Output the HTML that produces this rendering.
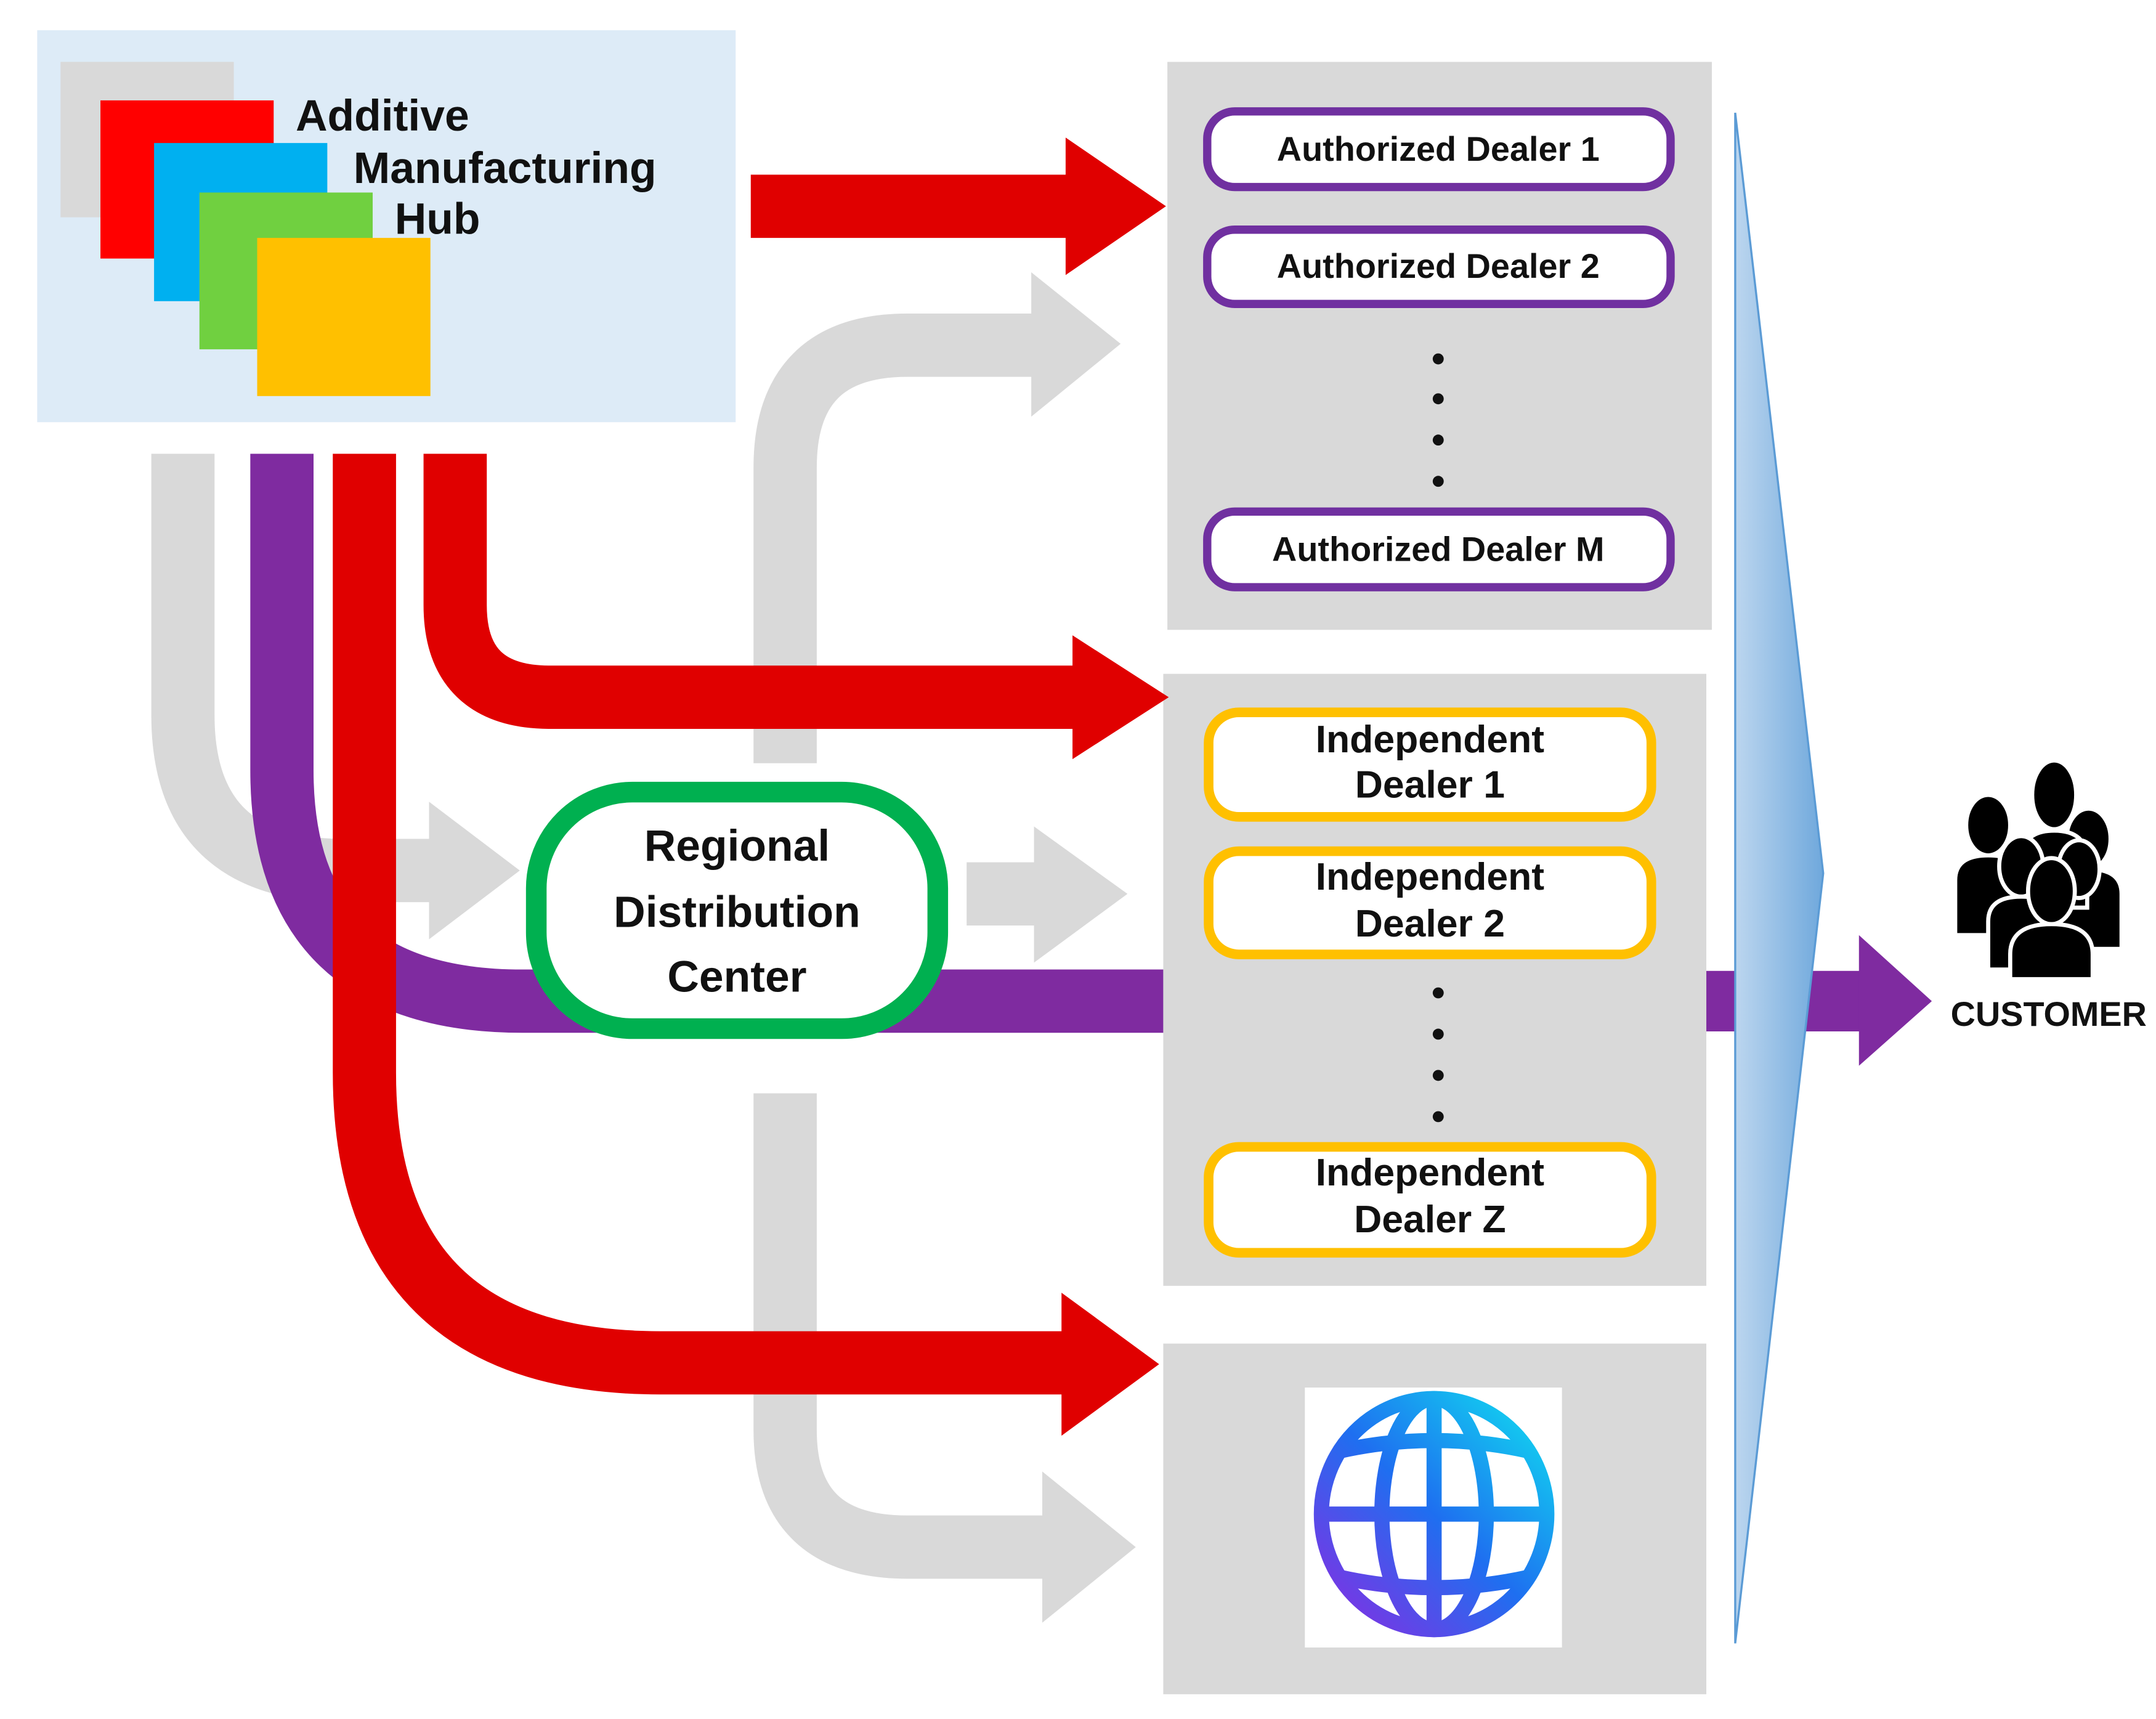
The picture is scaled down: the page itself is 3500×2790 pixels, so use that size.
<!DOCTYPE html>
<html><head><meta charset="utf-8"><style>
html,body{margin:0;padding:0;background:#fff;}
svg{display:block;}
text{font-family:"Liberation Sans",sans-serif;font-weight:bold;fill:#111;}
</style></head><body>
<svg width="3500" height="2790" viewBox="0 0 1568 1250" xmlns="http://www.w3.org/2000/svg">
<defs>
<linearGradient id="tri" x1="0" y1="0" x2="1" y2="0"><stop offset="0" stop-color="#bcd6ef"/><stop offset="1" stop-color="#6fa8dc"/></linearGradient>
<linearGradient id="glb" gradientUnits="userSpaceOnUse" x1="1125" y1="1017" x2="961" y2="1185"><stop offset="0" stop-color="#10e0f0"/><stop offset="0.5" stop-color="#1e6ff0"/><stop offset="1" stop-color="#8a2be2"/></linearGradient>
</defs>
<!-- hub -->
<rect x="27" y="22" width="508" height="285" fill="#DDEBF7"/>
<rect x="44" y="45" width="126" height="113" fill="#D9D9D9"/>
<rect x="73" y="73" width="126" height="115" fill="#FF0000"/>
<rect x="112" y="104" width="126" height="115" fill="#00B0F0"/>
<rect x="145" y="140" width="126" height="114" fill="#70D040"/>
<rect x="187" y="173" width="126" height="115" fill="#FFC000"/>
<text x="215" y="95" font-size="32">Additive</text>
<text x="257" y="133" font-size="32">Manufacturing</text>
<text x="287" y="170" font-size="32">Hub</text>

<!-- panels -->
<rect x="849" y="45" width="396" height="413" fill="#D9D9D9"/>
<rect x="846" y="490" width="395" height="445" fill="#D9D9D9"/>
<rect x="846" y="977" width="395" height="255" fill="#D9D9D9"/>

<!-- gray flows -->
<g fill="none" stroke="#D9D9D9" stroke-width="46">
<path d="M133,330 V520 Q133,633 250,633 H316"/>
<path d="M571,555 V340 Q571,251 660,251 H752"/>
<path d="M571,795 V1040 Q571,1125 660,1125 H760"/>
<path d="M703,650 H754"/>
</g>
<g fill="#D9D9D9">
<polygon points="312,583 378,633 312,683"/>
<polygon points="750,198 815,250 750,303"/>
<polygon points="758,1070 826,1125 758,1180"/>
<polygon points="752,601 820,650 752,700"/>
</g>
<!-- purple -->
<path d="M205,330 V560 Q205,728 380,728 H846" fill="none" stroke="#7F2BA0" stroke-width="46"/>
<rect x="1241" y="706" width="113" height="44" fill="#7F2BA0"/>
<polygon points="1352,680 1405,728 1352,775" fill="#7F2BA0"/>
<!-- red -->
<g fill="none" stroke="#E00000" stroke-width="46">
<path d="M265,330 V780 Q265,991 480,991 H775"/>
<path d="M331,330 V440 Q331,507 400,507 H782"/>
<path d="M546,150 H777"/>
</g>
<g fill="#E00000">
<polygon points="772,940 843,992 772,1044"/>
<polygon points="780,462 850,507 780,552"/>
<polygon points="775,100 848,150 775,200"/>
</g>

<!-- RDC -->
<rect x="390" y="576" width="292" height="172" rx="70" fill="#fff" stroke="#00B050" stroke-width="15"/>
<text x="536" y="626" font-size="32" text-anchor="middle">Regional</text>
<text x="536" y="674" font-size="32" text-anchor="middle">Distribution</text>
<text x="536" y="721" font-size="32" text-anchor="middle">Center</text>

<!-- authorized -->
<g fill="#fff" stroke="#7030A0" stroke-width="6">
<rect x="878" y="81" width="337" height="55" rx="20"/>
<rect x="878" y="167" width="337" height="54" rx="20"/>
<rect x="878" y="372" width="337" height="55" rx="20"/>
</g>
<g font-size="25" text-anchor="middle">
<text x="1046" y="117">Authorized Dealer 1</text>
<text x="1046" y="202">Authorized Dealer 2</text>
<text x="1046" y="408">Authorized Dealer M</text>
</g>
<g fill="#111">
<circle cx="1046" cy="261" r="4"/><circle cx="1046" cy="290" r="4"/><circle cx="1046" cy="320" r="4"/><circle cx="1046" cy="350" r="4"/>
<circle cx="1046" cy="722" r="4"/><circle cx="1046" cy="752" r="4"/><circle cx="1046" cy="782" r="4"/><circle cx="1046" cy="812" r="4"/>
</g>
<!-- independent -->
<g fill="#fff" stroke="#FFC000" stroke-width="7">
<rect x="879" y="518" width="322" height="76" rx="22"/>
<rect x="879" y="619" width="322" height="75" rx="22"/>
<rect x="879" y="834" width="322" height="77" rx="22"/>
</g>
<g font-size="28" text-anchor="middle">
<text x="1040" y="547">Independent</text><text x="1040" y="580">Dealer 1</text>
<text x="1040" y="647">Independent</text><text x="1040" y="681">Dealer 2</text>
<text x="1040" y="862">Independent</text><text x="1040" y="896">Dealer Z</text>
</g>

<!-- globe -->
<rect x="949" y="1009" width="187" height="189" fill="#fff"/>
<g fill="none" stroke="url(#glb)" stroke-width="11">
<ellipse cx="1043" cy="1101" rx="82" ry="84"/>
<ellipse cx="1043" cy="1101" rx="38" ry="84"/>
<line x1="1043" y1="1017" x2="1043" y2="1185"/>
<line x1="961" y1="1101" x2="1125" y2="1101"/>
<path d="M975,1055 Q1043,1040 1111,1055"/>
<path d="M975,1147 Q1043,1162 1111,1147"/>
</g>

<!-- triangle -->
<polygon points="1262,82 1326,635 1262,1195" fill="url(#tri)" stroke="#5B9BD5" stroke-width="1.5"/>

<!-- customer -->
<g fill="#000" stroke="#fff" stroke-width="3">
<ellipse cx="1446" cy="600" rx="16" ry="22"/>
<path d="M1422,680 V640 Q1422,622 1446,622 Q1470,622 1470,640 V680 Z"/>
<ellipse cx="1519" cy="610" rx="16" ry="22"/>
<path d="M1495,690 V650 Q1495,632 1519,632 Q1543,632 1543,650 V690 Z"/>
<ellipse cx="1494" cy="578" rx="16" ry="25"/>
<path d="M1470,660 V626 Q1470,604 1494,604 Q1518,604 1518,626 V660 Z"/>
<ellipse cx="1470" cy="630" rx="16" ry="22"/>
<path d="M1446,705 V670 Q1446,652 1470,652 Q1494,652 1494,670 V705 Z"/>
<ellipse cx="1512" cy="632" rx="15" ry="21"/>
<ellipse cx="1492" cy="648" rx="17" ry="24"/>
<path d="M1462,712 V694 Q1462,672 1492,672 Q1522,672 1522,694 V712 Z"/>
</g>
<text x="1490" y="746" font-size="25" text-anchor="middle">CUSTOMER</text>
</svg>
</body></html>
